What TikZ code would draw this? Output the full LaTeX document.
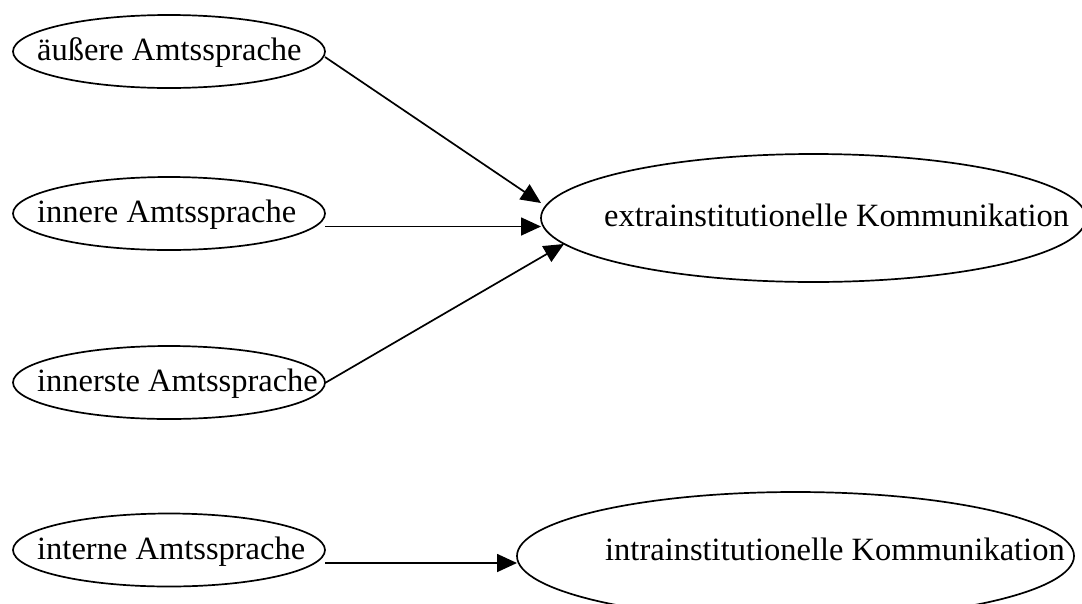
\documentclass[tikz,border=0pt]{standalone}
\usepackage{fontspec}
\setmainfont{Liberation Serif}
\usetikzlibrary{shapes.geometric,arrows.meta,calc}

\tikzset{
  blob/.style={draw=black, line width=1.7pt, ellipse, inner sep=0pt, fill=none},
  small/.style={blob, minimum width=312, minimum height=73},
  lbl/.style={inner sep=0pt, anchor=base west, font=\fontsize{32.5}{38}\selectfont},
  arr/.style={line width=1.7pt, -{Triangle[length=20pt, width=18pt]}}
}

\begin{document}
\begin{tikzpicture}[x=1pt, y=-1pt]
  \useasboundingbox (0,0) rectangle (1082,603);
  \clip (0,0) rectangle (1082,603);

  % source ellipses on the left
  \node[small] (e1) at (169,51.5) {};
  \node[small] (e2) at (169,213.5) {};
  \node[small] (e3) at (169,382.5) {};
  \node[small] (e4) at (169,550) {};

  % target ellipses on the right
  \node[blob, minimum width=545, minimum height=128] (ext) at (813.5,218) {};
  \node[blob, minimum width=557, minimum height=128] (intr) at (795.5,556) {};

  % labels
  \node[lbl] (t1) at ($(e1.center)+(-132,9)$) {äußere Amtssprache};
  \node[lbl] (t2) at ($(e2.center)+(-132,9)$) {innere Amtssprache};
  \node[lbl] (t3) at ($(e3.center)+(-132,9)$) {innerste Amtssprache};
  \node[lbl] (t4) at ($(e4.center)+(-132,9)$) {interne Amtssprache};
  \node[lbl] (t5) at ($(ext.center)+(-209.5,8)$) {extrainstitutionelle Kommunikation};
  \node[lbl] (t6) at ($(intr.center)+(-190.5,4)$) {intrainstitutionelle Kommunikation};

  % connectors
  \draw[arr] ($(e1.center)+(156,5.5)$) -- ($(ext.center)+(-272.5,-15)$);
  \draw[arr] ($(e2.center)+(156,13)$) -- ($(ext.center)+(-272.5,8.5)$);
  \draw[arr] ($(e3.center)+(156,0.5)$) -- ($(ext.center)+(-249.5,26)$);
  \draw[arr] ($(e4.center)+(156,13)$) -- ($(intr.center)+(-278.5,7)$);
\end{tikzpicture}
\end{document}
